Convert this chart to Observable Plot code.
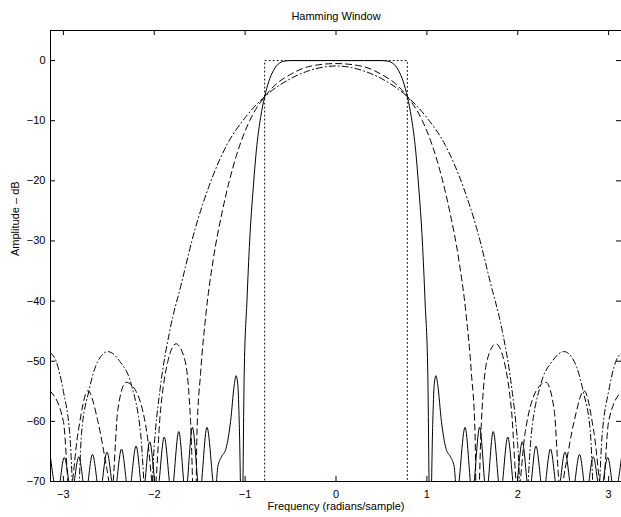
<!DOCTYPE html>
<html><head><meta charset="utf-8">
<script src="https://cdn.jsdelivr.net/npm/d3@7"></script>
<script src="https://cdn.jsdelivr.net/npm/@observablehq/plot@0.6"></script>
<style>
body{margin:0;background:#fff;}
#chart svg{font-family:"Liberation Sans",Arial,Helvetica,sans-serif;}
</style>
</head><body><div id="chart"></div>
<script>
const title = "Hamming Window";
const xLabel = "Frequency (radians/sample)";
const yLabel = "Amplitude – dB";
const xTicks = [-3, -2, -1, 0, 1, 2, 3];
const yTicks = [-70, -60, -50, -40, -30, -20, -10, 0];

// Ideal lowpass (dotted)
const idealX  = [-3.1416, -0.785, -0.785, 0.785, 0.785, 3.1416];
const idealDb = [-100, -100, 0, 0, -100, -100];

// Long filter (solid)
const solidX = [
 -3.1416,-3.065,-2.99,-2.91,-2.83,-2.755,-2.68,-2.60,-2.52,-2.44,-2.36,-2.28,-2.20,-2.125,-2.05,-1.97,-1.89,-1.81,-1.73,-1.655,-1.58,-1.50,-1.42,-1.33,
 -1.30,-1.26,-1.21,-1.16,-1.12,-1.10,-1.08,-1.065,-1.035,-1.01,-0.98,-0.95,-0.91,-0.87,-0.83,-0.785,-0.74,-0.69,-0.62,-0.55,-0.5,-0.3,0,
 0.3,0.5,0.55,0.62,0.69,0.74,0.785,0.83,0.87,0.91,0.95,0.98,1.01,1.035,1.065,1.08,1.10,1.12,1.16,1.21,1.26,1.30,
 1.33,1.42,1.50,1.58,1.655,1.73,1.81,1.89,1.97,2.05,2.125,2.20,2.28,2.36,2.44,2.52,2.60,2.68,2.755,2.83,2.91,2.99,3.065,3.1416];
const solidDb = [
 -66.0,-72,-66.0,-72,-65.9,-72,-65.5,-72,-65.1,-72,-64.6,-72,-64.1,-72,-63.4,-72,-62.6,-72,-61.7,-72,-61.0,-72,-61.0,-72,
 -67.5,-65.9,-64.5,-60,-54,-52.4,-54,-60,-80,-52,-40,-30,-21,-14,-9.5,-6.0,-3.5,-1.7,-0.4,-0.05,0,0,0,
 0,0,-0.05,-0.4,-1.7,-3.5,-6.0,-9.5,-14,-21,-30,-40,-52,-80,-60,-54,-52.4,-54,-60,-64.5,-65.9,-67.5,
 -72,-61.0,-72,-61.0,-72,-61.7,-72,-62.6,-72,-63.4,-72,-64.1,-72,-64.6,-72,-65.1,-72,-65.5,-72,-65.9,-72,-66.0,-72,-66.0];

// Medium filter (dashed)
const dashX = [
 -3.1416,-3.0,-2.93,-2.84,-2.73,-2.62,-2.52,-2.47,-2.40,-2.31,-2.20,-2.08,-2.0,-1.93,-1.85,-1.76,-1.66,-1.60,-1.55,-1.53,-1.49,-1.43,-1.35,-1.25,-1.1,-0.95,-0.785,-0.65,-0.5,-0.3,0,
 0.3,0.5,0.65,0.785,0.95,1.1,1.25,1.35,1.43,1.49,1.53,1.55,1.60,1.66,1.76,1.85,1.93,2.0,2.08,2.20,2.31,2.40,2.47,2.52,2.62,2.73,2.84,2.93,3.0,3.1416];
const dashDb = [
 -55,-60,-72,-62,-54.9,-60,-68,-72,-58,-53.5,-55,-62,-72,-58,-50,-47.1,-50,-60,-80,-62,-52,-42,-33,-25,-16,-10,-6,-3.8,-2.3,-1.0,-0.5,
 -1.0,-2.3,-3.8,-6,-10,-16,-25,-33,-42,-52,-62,-80,-60,-50,-47.1,-50,-58,-72,-62,-55,-53.5,-58,-72,-68,-60,-54.9,-62,-72,-60,-55];

// Short filter (dash-dot)
const dotDashX = [
 -3.1416,-3.08,-3.0,-2.93,-2.86,-2.80,-2.72,-2.62,-2.51,-2.38,-2.25,-2.15,-2.06,-2.0,-1.93,-1.83,-1.7,-1.55,-1.4,-1.2,-1.0,-0.785,-0.5,-0.3,0,
 0.3,0.5,0.785,1.0,1.2,1.4,1.55,1.7,1.83,1.93,2.0,2.06,2.15,2.25,2.38,2.51,2.62,2.72,2.80,2.86,2.93,3.0,3.08,3.1416];
const dotDashDb = [
 -48.6,-50,-55,-62,-80,-62,-55,-50,-48.4,-50,-54,-62,-80,-64,-54,-45,-37,-28,-21,-14,-9.5,-6,-3.0,-1.7,-0.9,
 -1.7,-3.0,-6,-9.5,-14,-21,-28,-37,-45,-54,-64,-80,-62,-54,-50,-48.4,-50,-55,-62,-80,-62,-55,-50,-48.6];

const toRows = (xs, ys) => xs.map((x, i) => ({x, y: ys[i]}));
const ideal = toRows(idealX, idealDb);
const solid = toRows(solidX, solidDb);
const dashed = toRows(dashX, dashDb);
const dotdash = toRows(dotDashX, dotDashDb);

const fmt = d => d < 0 ? "\u2212" + Math.abs(d) : String(d);
const lineOpts = {x: "x", y: "y", stroke: "black", strokeWidth: 1, clip: true, curve: "monotone-x"};

const chart = Plot.plot({
  width: 621,
  height: 517,
  marginLeft: 50,
  marginRight: 0,
  marginTop: 30,
  marginBottom: 36,
  x: {domain: [-Math.PI, Math.PI], axis: null},
  y: {domain: [-70, 5], axis: null},
  style: {fontSize: "11px", fontFamily: "Liberation Sans, Arial, sans-serif", background: "white"},
  marks: [
    Plot.line(ideal, {...lineOpts, curve: "linear", strokeDasharray: "1,3"}),
    Plot.line(dotdash, {...lineOpts, strokeDasharray: "6,3,1,3"}),
    Plot.line(dashed, {...lineOpts, strokeDasharray: "6,4"}),
    Plot.line(solid, lineOpts),
    Plot.frame({stroke: "black", strokeWidth: 1}),
    Plot.tickX(xTicks, {x: d => d, insetTop: 446, stroke: "black"}),
    Plot.tickX(xTicks, {x: d => d, insetBottom: 446, stroke: "black"}),
    Plot.tickY(yTicks, {y: d => d, insetRight: 566, stroke: "black"}),
    Plot.tickY(yTicks, {y: d => d, insetLeft: 566, stroke: "black"}),
    Plot.text(xTicks, {x: d => d, text: fmt, frameAnchor: "bottom", dy: 16, fill: "black"}),
    Plot.text(yTicks, {y: d => d, text: fmt, frameAnchor: "left", dx: -5, textAnchor: "end", fill: "black"}),
    Plot.text([title], {text: d => d, frameAnchor: "top", dy: -18, fill: "black"}),
    Plot.text([xLabel], {text: d => d, frameAnchor: "bottom", dy: 28, fill: "black"}),
    Plot.text([yLabel], {text: d => d, frameAnchor: "left", dx: -35, rotate: -90, fill: "black"})
  ]
});
document.getElementById("chart").append(chart);
</script>
</body></html>
